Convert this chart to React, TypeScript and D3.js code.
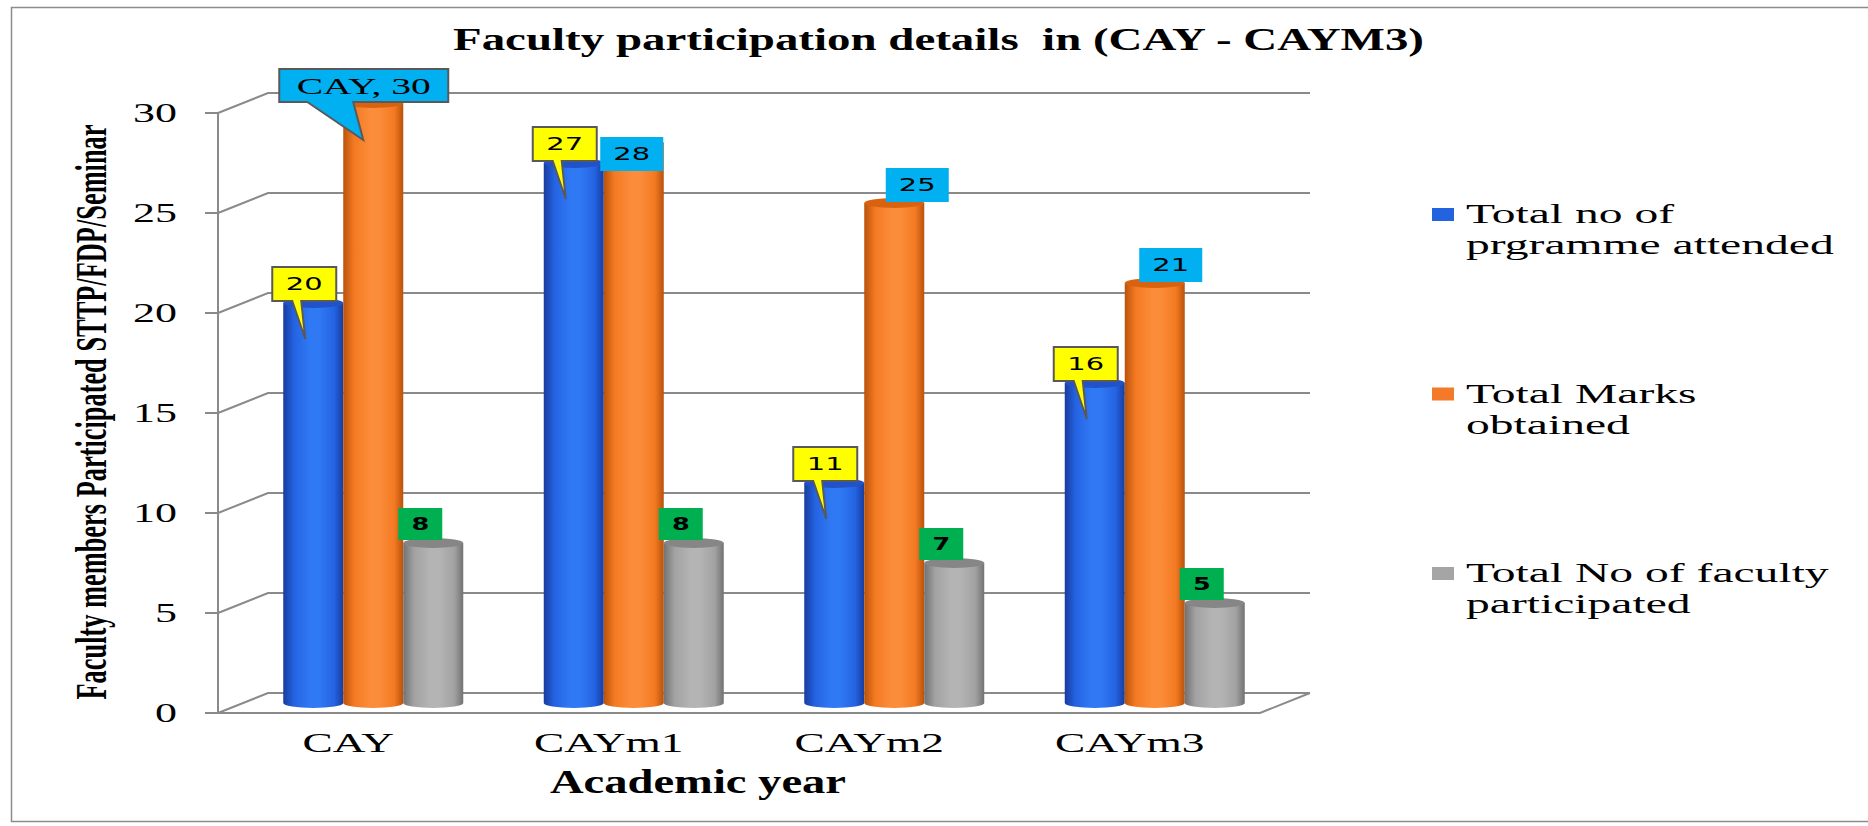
import React from "react";
import * as d3 from "d3";

// ---------- data ----------
const categories = ["CAY", "CAYm1", "CAYm2", "CAYm3"];
const programmesAttended = [20, 27, 11, 16];
const totalMarks = [30, 28, 25, 21];
const facultyParticipated = [8, 8, 7, 5];
const yTicks = [0, 5, 10, 15, 20, 25, 30];
const legendLines = [
  ["Total no of", "prgramme attended"],
  ["Total Marks", "obtained"],
  ["Total No of faculty", "participated"],
];
const titleText = "Faculty participation details  in (CAY - CAYM3)";
const yAxisTitle = "Faculty members Participated STTP/FDP/Seminar";
const xAxisTitle = "Academic year";

// ---------- layout ----------
const W = 1868;
const H = 826;
const X0 = 218;
const X1 = 1260;
const DX = 50;
const DY = -20;
const SX = 1.68;
const SERIF = "'Liberation Serif', 'Times New Roman', serif";
const SANS = "'DejaVu Sans', Verdana, sans-serif";

const series = [
  { key: "blue", values: programmesAttended, light: "#3079f4", mid: "#2463e2", dark: "#183c9e", top: "#2152c8", legend: "#2463E0" },
  { key: "orange", values: totalMarks, light: "#fb8c3a", mid: "#f47a22", dark: "#b9520c", top: "#d9620f", legend: "#F47A2A" },
  { key: "gray", values: facultyParticipated, light: "#b4b4b4", mid: "#a2a2a2", dark: "#727272", top: "#868686", legend: "#A5A5A5" },
];

// label box nudges for the orange series (manual placement in the original)
const orangeNudge = [
  { dx: 0, dy: 0 },
  { dx: -2, dy: 29 },
  { dx: 23, dy: 0 },
  { dx: 16, dy: 0 },
];

function STxt({ x, y, size, weight = "normal", family = SERIF, anchor = "start", sx = SX, children }: any) {
  return (
    <text
      transform={`translate(${x},${y}) scale(${sx},1)`}
      fontSize={size}
      fontWeight={weight}
      fontFamily={family}
      textAnchor={anchor}
      fill="#000"
    >
      {children}
    </text>
  );
}

function callout(L: number, T: number, w: number, h: number, bL: number, bR: number, tx: number, ty: number) {
  const R = L + w;
  const B = T + h;
  return `M${L},${T}H${R}V${B}H${bR}L${tx},${ty}L${bL},${B}H${L}Z`;
}

export default function App() {
  const x = d3.scaleBand<string>().domain(categories).range([X0, X1]).paddingInner(0).paddingOuter(0);
  const y = d3.scaleLinear().domain([0, 30]).range([713, 113]);
  const sub = d3.scaleBand<number>().domain([0, 1, 2]).range([-90, 90]);
  const bw = sub.bandwidth();
  const rx = bw / 2;
  const ry = 5;
  const grid = "#8a8a8a";

  const cxOf = (ci: number, si: number) =>
    (x(categories[ci]) as number) + x.bandwidth() / 2 + (sub(si) as number) + bw / 2 + DX / 2;
  const topOf = (v: number) => y(v) + DY / 2;
  const baseY = y(0) + DY / 2;

  return (
    <svg width={W} height={H} style={{ position: "absolute", left: 0, top: 0, background: "#fff" }}>
      <defs>
        {series.map((s) => (
          <linearGradient key={s.key} id={`g-${s.key}`} x1="0" x2="1" y1="0" y2="0">
            <stop offset="0" stopColor={s.dark} />
            <stop offset="0.18" stopColor={s.mid} />
            <stop offset="0.45" stopColor={s.light} />
            <stop offset="0.6" stopColor={s.light} />
            <stop offset="0.85" stopColor={s.mid} />
            <stop offset="1" stopColor={s.dark} />
          </linearGradient>
        ))}
      </defs>
      <rect x={11.5} y={7.5} width={W} height={814} fill="#fff" stroke="#8c8c8c" strokeWidth={1.5} />

      {/* title */}
      <text
        x={453}
        y={50}
        textLength={971}
        lengthAdjust="spacingAndGlyphs"
        fontSize={31}
        fontWeight="bold"
        fontFamily={SERIF}
        style={{ whiteSpace: "pre" }}
      >
        {titleText}
      </text>

      {/* grid: left wall connectors + back wall lines */}
      {yTicks.map((t) => (
        <g key={t}>
          <polyline
            points={`${X0},${y(t)} ${X0 + DX},${y(t) + DY} ${X1 + DX},${y(t) + DY}`}
            fill="none"
            stroke={grid}
            strokeWidth={2}
          />
          <line x1={X0 - 13} x2={X0} y1={y(t)} y2={y(t)} stroke={grid} strokeWidth={2} />
          <STxt x={177} y={y(t) + 9} size={27} anchor="end" sx={1.63}>
            {t}
          </STxt>
        </g>
      ))}
      {/* front axis and floor */}
      <line x1={X0} x2={X0} y1={y(0)} y2={y(30)} stroke={grid} strokeWidth={2} />
      <polyline
        points={`${X0},${y(0)} ${X1},${y(0)} ${X1 + DX},${y(0) + DY}`}
        fill="none"
        stroke={grid}
        strokeWidth={2}
      />

      {/* cylinders */}
      {categories.map((c, ci) => (
        <g key={c}>
          {series.map((s, si) => {
            const cx = cxOf(ci, si);
            const x0 = cx - rx;
            const x1 = cx + rx;
            const yt = topOf(s.values[ci]);
            return (
              <g key={s.key}>
                <path
                  d={`M${x0},${yt}V${baseY}A${rx},${ry} 0 0 0 ${x1},${baseY}V${yt}Z`}
                  fill={`url(#g-${s.key})`}
                />
                <ellipse cx={cx} cy={yt} rx={rx} ry={ry} fill={s.top} />
              </g>
            );
          })}
        </g>
      ))}

      {/* data labels: blue series (yellow callouts) */}
      {programmesAttended.map((v, ci) => {
        const cx = cxOf(ci, 0);
        const yt = topOf(v);
        const L = cx - 9 - 32;
        const B = yt - 2;
        const T = B - 34;
        return (
          <g key={`lb${ci}`}>
            <path d={callout(L, T, 64, 34, L + 20, L + 29, cx - 8, yt + 36)} fill="#FFFF00" stroke="#595959" strokeWidth={2} />
            <STxt x={L + 32} y={T + 17 + 6} size={17} family={SANS} anchor="middle" sx={1.7}>
              {v}
            </STxt>
          </g>
        );
      })}

      {/* data labels: orange series (cyan boxes) */}
      {totalMarks.map((v, ci) => {
        const cx = cxOf(ci, 1);
        const yt = topOf(v);
        if (ci === 0) {
          const w = 169;
          const h = 33;
          const L = cx - 94;
          const B = yt - 1;
          const T = B - h;
          return (
            <g key={`lo${ci}`}>
              <path d={callout(L, T, w, h, L + 28, L + 74, cx - 10, yt + 37)} fill="#00B0F0" stroke="#595959" strokeWidth={2} />
              <STxt x={L + w / 2} y={T + h / 2 + 8} size={23} anchor="middle" sx={1.72}>
                {`${categories[ci]}, ${v}`}
              </STxt>
            </g>
          );
        }
        const n = orangeNudge[ci];
        const w = 63;
        const h = 34;
        const left = cx + n.dx - w / 2;
        const B = yt - 1 + n.dy;
        const T = B - h;
        return (
          <g key={`lo${ci}`}>
            <rect x={left} y={T} width={w} height={h} fill="#00B0F0" />
            <STxt x={left + w / 2} y={T + h / 2 + 6} size={17} family={SANS} anchor="middle" sx={1.7}>
              {v}
            </STxt>
          </g>
        );
      })}

      {/* data labels: gray series (green boxes) */}
      {facultyParticipated.map((v, ci) => {
        const cx = cxOf(ci, 2);
        const yt = topOf(v);
        const w = 44;
        const h = 32;
        const left = cx - 13 - w / 2;
        const B = yt - 3;
        const T = B - h;
        return (
          <g key={`lg${ci}`}>
            <rect x={left} y={T} width={w} height={h} fill="#00B050" />
            <STxt x={left + w / 2} y={T + h / 2 + 6} size={17} weight="bold" family={SANS} anchor="middle" sx={1.5}>
              {v}
            </STxt>
          </g>
        );
      })}

      {/* x tick labels */}
      {categories.map((c) => (
        <STxt key={c} x={(x(c) as number) + x.bandwidth() / 2} y={752} size={27} anchor="middle" sx={1.68}>
          {c}
        </STxt>
      ))}

      {/* axis titles */}
      <text
        x={698}
        y={793}
        textLength={296}
        lengthAdjust="spacingAndGlyphs"
        textAnchor="middle"
        fontSize={33}
        fontWeight="bold"
        fontFamily={SERIF}
      >
        {xAxisTitle}
      </text>
      <text
        transform={`translate(106,412) rotate(-90)`}
        textLength={575}
        lengthAdjust="spacingAndGlyphs"
        textAnchor="middle"
        fontSize={44}
        fontWeight="bold"
        fontFamily={SERIF}
      >
        {yAxisTitle}
      </text>

      {/* legend */}
      {series.map((s, si) => {
        const base = 223 + si * 179.5;
        return (
          <g key={`leg${si}`}>
            <rect x={1432} y={base - 15} width={22} height={13} fill={s.legend} />
            <STxt x={1466} y={base} size={28} sx={1.7}>
              {legendLines[si][0]}
            </STxt>
            <STxt x={1466} y={base + 31} size={28} sx={1.7}>
              {legendLines[si][1]}
            </STxt>
          </g>
        );
      })}
    </svg>
  );
}
